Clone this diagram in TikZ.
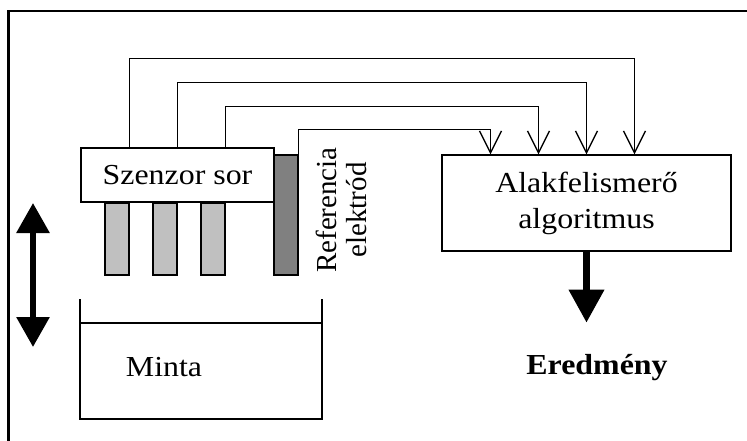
\documentclass[tikz,border=0pt]{standalone}
\usepackage{fontspec}
\setmainfont{Liberation Serif}[FakeStretch=1.1]
\newfontfamily\droitfont{Liberation Serif}
\usepackage{tikz}
\usetikzlibrary{arrows.meta}
\usetikzlibrary{calc}
\definecolor{grisclair}{HTML}{C0C0C0}
\definecolor{grisfonce}{HTML}{808080}
\tikzstyle{cadre}=[draw,line width=2.5pt]
\tikzstyle{bloc}=[
        rectangle,
        draw,
        line width=1.3pt,
        fill=white,
        inner sep=0pt,
        align=center,
        font=\fontsize{29}{36}\selectfont
]
\tikzstyle{tige}=[rectangle,draw,line width=1.3pt,fill=grisclair,minimum width=24pt,minimum height=72pt,inner sep=0pt]
\tikzstyle{reference}=[tige,fill=grisfonce,minimum height=120pt]
\tikzstyle{texte}=[inner sep=0pt,font=\fontsize{29}{36}\selectfont]
\tikzstyle{fil}=[-{Straight Barb[length=22pt,width=22pt]},line width=1.3pt]
\tikzstyle{grosse}=[line width=7pt,-{Triangle[length=33pt,width=34pt]}]

\begin{document}
\begin{tikzpicture}[x=1pt,y=-1pt]
\clip (0,0) rectangle (747,441);
\draw[cadre] (8.5,11) rectangle (770,470);
\node[tige] (t1) at (117,239) {};
\node[tige] (t2) at (165,239) {};
\node[tige] (t3) at (213,239) {};
\node[reference] (ref) at (286,215) {};
\node[bloc,minimum width=193pt,minimum height=54pt] (szenzor) at (177.5,175) {Szenzor sor};
\node[texte,rotate=90,align=center,font=\droitfont\fontsize{29}{30}\selectfont] (reftxt) at (341,210) {Referencia\\elektród};
\node[bloc,minimum width=289pt,minimum height=96pt] (alak) at (586.5,203) {Alakfelismerő\\algoritmus};
\node[texte] (minta) at (164,367) {Minta};
\node[texte,font=\fontsize{29}{36}\selectfont\bfseries] (ered) at (597,368) {Eredmény};
\coordinate (haut) at (33,203);
\coordinate (bas) at (33,347);
%Drawing Edges
\draw[fil] (t1.east |- szenzor.north) |- ($(alak.north)+(48,-96)$) -- ($(alak.north)+(48,0)$);
\draw[fil] (t2.east |- szenzor.north) |- ($(alak.north)+(0,-72)$) -- (alak.north);
\draw[fil] (t3.east |- szenzor.north) |- ($(alak.north)+(-48,-48)$) -- ($(alak.north)+(-48,0)$);
\draw[fil] (ref.north east) |- ($(alak.north)+(-96,-25)$) -- ($(alak.north)+(-96,0)$);
\draw[grosse] (alak.south) -- ($(alak.south)+(0,71)$);
\draw[line width=6pt,{Triangle[length=30pt,width=32pt]}-{Triangle[length=30pt,width=32pt]}] (haut) -- (bas);
% edeny
\draw[line width=2.5pt] (80,299) -- (80,419) -- (322,419) -- (322,299);
\draw[line width=1.3pt] (80,323) -- (322,323);
\end{tikzpicture}
\end{document}
